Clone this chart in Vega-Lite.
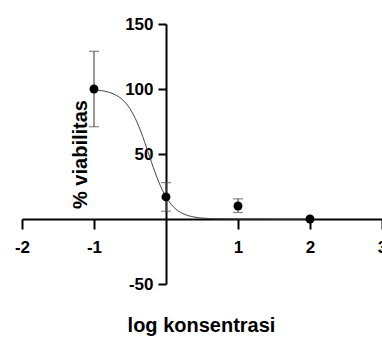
{
  "$schema": "https://vega.github.io/schema/vega-lite/v6.json",
  "width": 360,
  "height": 260,
  "autosize": {"type": "none"},
  "padding": {"left": 22, "top": 24, "right": 0, "bottom": 54},
  "background": "white",
  "config": {
    "view": {"stroke": null},
    "axis": {
      "grid": false,
      "domainColor": "black",
      "tickColor": "black",
      "labelColor": "black",
      "titleColor": "black",
      "labelFont": "Liberation Sans",
      "titleFont": "Liberation Sans",
      "labelFontWeight": "bold",
      "titleFontWeight": "bold"
    }
  },
  "datasets": {
    "pts": [
      {"x": -1, "y": 100, "lo": 71, "hi": 129},
      {"x": 0, "y": 17, "lo": 6, "hi": 28},
      {"x": 1, "y": 10, "lo": 5, "hi": 15.5},
      {"x": 2, "y": 0, "lo": 0, "hi": 0}
    ],
    "curve": [
      {"x": -1.0, "y": 99.35},
      {"x": -0.9, "y": 98.74},
      {"x": -0.8, "y": 97.59},
      {"x": -0.7, "y": 95.43},
      {"x": -0.6, "y": 91.51},
      {"x": -0.5, "y": 84.78},
      {"x": -0.4, "y": 74.21},
      {"x": -0.35, "y": 67.4},
      {"x": -0.3, "y": 59.77},
      {"x": -0.25, "y": 51.65},
      {"x": -0.2, "y": 43.42},
      {"x": -0.15, "y": 35.6},
      {"x": -0.1, "y": 28.41},
      {"x": -0.05, "y": 22.2},
      {"x": 0.0, "y": 16.99},
      {"x": 0.05, "y": 12.8},
      {"x": 0.1, "y": 9.56},
      {"x": 0.15, "y": 7.0},
      {"x": 0.2, "y": 5.18},
      {"x": 0.25, "y": 3.78},
      {"x": 0.3, "y": 2.74},
      {"x": 0.4, "y": 1.43},
      {"x": 0.5, "y": 0.75},
      {"x": 0.7, "y": 0.2},
      {"x": 1.0, "y": 0.03},
      {"x": 1.5, "y": 0.0},
      {"x": 2.0, "y": 0.0}
    ]
  },
  "encoding": {
    "x": {
      "field": "x",
      "type": "quantitative",
      "scale": {"domain": [-2, 3], "nice": false, "zero": false},
      "axis": {
        "orient": "bottom",
        "offset": -65,
        "values": [-2, -1, 1, 2, 3],
        "labelExpr": "'' + datum.value",
        "domainWidth": 2,
        "tickWidth": 2,
        "tickSize": 10,
        "labelFontSize": 17,
        "labelPadding": 10,
        "labelFlush": false,
        "labelOverlap": false,
        "title": "log konsentrasi",
        "titleFontSize": 20,
        "titleX": 179,
        "titleY": 106,
        "titleBaseline": "middle",
        "titleAlign": "center"
      }
    },
    "y": {
      "field": "y",
      "type": "quantitative",
      "scale": {"domain": [-50, 150], "nice": false, "zero": false},
      "axis": {
        "orient": "left",
        "offset": -144,
        "values": [-50, 50, 100, 150],
        "labelExpr": "'' + datum.value",
        "domainWidth": 2,
        "tickWidth": 2,
        "tickSize": 8,
        "labelFontSize": 17,
        "labelPadding": 5,
        "labelFlush": false,
        "labelOverlap": false,
        "title": "% viabilitas",
        "titleFontSize": 20,
        "titleX": -86,
        "titleY": 130,
        "titleAngle": -90,
        "titleBaseline": "middle",
        "titleAlign": "center"
      }
    }
  },
  "layer": [
    {
      "data": {"name": "curve"},
      "mark": {"type": "line", "color": "#444", "strokeWidth": 1, "interpolate": "monotone"}
    },
    {
      "data": {"name": "pts"},
      "mark": {"type": "rule", "color": "#555", "strokeWidth": 1.2},
      "encoding": {
        "y": {"field": "lo", "type": "quantitative"},
        "y2": {"field": "hi"}
      }
    },
    {
      "data": {"name": "pts"},
      "mark": {"type": "tick", "orient": "horizontal", "color": "#555", "thickness": 1.2, "size": 10},
      "encoding": {
        "y": {"field": "lo", "type": "quantitative"}
      }
    },
    {
      "data": {"name": "pts"},
      "mark": {"type": "tick", "orient": "horizontal", "color": "#555", "thickness": 1.2, "size": 10},
      "encoding": {
        "y": {"field": "hi", "type": "quantitative"}
      }
    },
    {
      "data": {"name": "pts"},
      "mark": {"type": "point", "filled": true, "color": "black", "opacity": 1, "size": 80}
    }
  ]
}
